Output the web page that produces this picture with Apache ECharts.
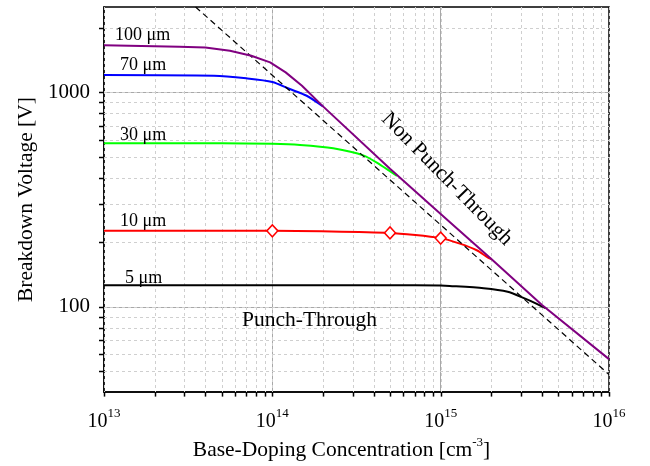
<!DOCTYPE html>
<html>
<head>
<meta charset="utf-8">
<title>Breakdown Voltage vs Base-Doping</title>
<script src="https://cdn.jsdelivr.net/npm/echarts@6/dist/echarts.min.js"></script>
<style>
  html, body { margin: 0; padding: 0; background: #fff; }
  #chart { width: 650px; height: 466px; }
</style>
</head>
<body>
<div id="chart"></div>
<script>
// base doping [cm^-3] vs breakdown voltage [V]
const curve5um = [[1e13, 126], [5e14, 126], [1e15, 125.5], [1.13e15, 125], [1.8e15, 122], [2.5e15, 117.5], [3.1e15, 110], [3.7e15, 103.5], [4.2e15, 98.5]];
const curve10um = [[1e13, 226], [1e14, 226], [5e14, 221], [1e15, 209], [1.3e15, 197], [1.65e15, 183], [1.9e15, 170], [2e15, 167]];
const curve30um = [[1e13, 579], [5e13, 579], [1e14, 575], [1.46e14, 568], [2.3e14, 548], [3.5e14, 507], [4.4e14, 458], [5.5e14, 408]];
const curve70um = [[1e13, 1204], [4.5e13, 1195], [7e13, 1162], [1e14, 1118], [1.27e14, 1036], [1.6e14, 964], [2e14, 860]];
const curve100um = [[1e13, 1660], [2.8e13, 1632], [4e13, 1620], [5.6e13, 1563], [7.5e13, 1481], [9.7e13, 1379], [1.2e14, 1239], [1.5e14, 1073], [2e14, 860], [5e14, 440], [1e15, 271], [2e15, 167], [4e15, 102], [1e16, 57]];
const nptLimit = [[3.5e13, 2500], [1e16, 48.3]];
// points on the 10 um curve that carry a diamond marker
const markedDoping = [1e14, 5e14, 1e15];

const xMajor = [1e13, 1e14, 1e15, 1e16];
const yMajor = [100, 1000];
const xMinor = [2e13, 3e13, 4e13, 5e13, 6e13, 7e13, 8e13, 9e13,
  2e14, 3e14, 4e14, 5e14, 6e14, 7e14, 8e14, 9e14,
  2e15, 3e15, 4e15, 5e15, 6e15, 7e15, 8e15, 9e15];
const yMinor = [50, 60, 70, 80, 90, 200, 300, 400, 500, 600, 700, 800, 900, 2000];

const FONT = '"Liberation Serif", "Times New Roman", serif';

const chart = echarts.init(document.getElementById('chart'), null, { renderer: 'canvas' });

// dashed minor grid + outward ticks, x direction (major ticks longer)
const ticksX = {
  type: 'custom',
  silent: true,
  clip: false,
  z: 1,
  data: xMinor.map(v => [v, 100]).concat(xMajor.map(v => [v, 100, 1])),
  renderItem: (params, api) => {
    const cs = params.coordSys;
    const major = api.value(2) === 1;
    const x = Math.round(api.coord([api.value(0), 100])[0]) + 0.5;
    const bottom = cs.y + cs.height;
    const children = [
      { type: 'line', z2: 50, shape: { x1: x, y1: bottom, x2: x, y2: bottom + (major ? 7.5 : 4.5) }, style: { stroke: '#000', lineWidth: 1.5 } },
    ];
    if (!major) {
      children.push({ type: 'line', shape: { x1: x, y1: cs.y, x2: x, y2: bottom }, style: { stroke: '#cfcfcf', lineWidth: 1, lineDash: [3, 3] } });
    }
    return { type: 'group', children: children };
  },
};

const ticksY = {
  type: 'custom',
  silent: true,
  clip: false,
  z: 1,
  data: yMinor.map(v => [1e14, v]).concat(yMajor.map(v => [1e14, v, 1])),
  renderItem: (params, api) => {
    const cs = params.coordSys;
    const major = api.value(2) === 1;
    const y = Math.round(api.coord([1e14, api.value(1)])[1]) + 0.5;
    const children = [
      { type: 'line', z2: 50, shape: { x1: cs.x - (major ? 8 : 5), y1: y, x2: cs.x, y2: y }, style: { stroke: '#000', lineWidth: 1.5 } },
    ];
    if (!major) {
      children.push({ type: 'line', shape: { x1: cs.x, y1: y, x2: cs.x + cs.width, y2: y }, style: { stroke: '#cfcfcf', lineWidth: 1, lineDash: [3, 3] } });
    }
    return { type: 'group', children: children };
  },
};

const curve = (data, color, smooth) => ({
  type: 'line',
  data: data,
  symbol: 'none',
  smooth: smooth || false,
  z: 3,
  lineStyle: { color: color, width: 2 },
  itemStyle: { color: color },
  emphasis: { disabled: true },
});

const redSeries = curve(curve10um.map(p => markedDoping.includes(p[0])
  ? { value: p, symbol: 'diamond', symbolSize: [11, 12] }
  : { value: p, symbol: 'none' }), '#ff0000', 0.2);
redSeries.symbol = 'diamond';
redSeries.showSymbol = true;
redSeries.itemStyle = { color: '#ffffff', borderColor: '#ff0000', borderWidth: 1.5 };

const labelText = (text, x, y, size) => ({
  type: 'text', x: x, y: y, silent: true, z: 10,
  style: { text: text, fontFamily: FONT, fontSize: size, fill: '#000', align: 'left', verticalAlign: 'middle' },
});

const option = {
  animation: false,
  backgroundColor: '#fff',
  grid: { left: 104, right: 41, top: 7, bottom: 73, show: true, borderColor: '#000', borderWidth: 1.5, backgroundColor: 'transparent' },
  xAxis: {
    type: 'log',
    logBase: 10,
    min: 1e13,
    max: 1e16,
    name: 'Base-Doping Concentration [cm{s|-3}]',
    nameLocation: 'middle',
    nameGap: 44,
    nameTextStyle: {
      fontFamily: FONT, fontSize: 21.5, color: '#000', padding: [0, 30, 0, 0],
      rich: { s: { fontFamily: FONT, fontSize: 13, color: '#000', padding: [0, 0, 14, 0] } },
    },
    axisLine: { show: true, onZero: false, lineStyle: { color: '#000', width: 1.5 } },
    axisTick: { show: false },
    axisLabel: {
      customValues: xMajor,
      margin: 15,
      formatter: v => '{b|10}{s|' + Math.round(Math.log10(v)) + '}',
      rich: {
        b: { fontFamily: FONT, fontSize: 20, color: '#000' },
        s: { fontFamily: FONT, fontSize: 13, color: '#000', padding: [0, 0, 16, 0] },
      },
    },
    splitLine: { show: true, showMinLine: false, showMaxLine: false, lineStyle: { color: '#a8a8a8', width: 1 } },
  },
  yAxis: {
    type: 'log',
    logBase: 10,
    min: 40,
    max: 2500,
    name: 'Breakdown Voltage [V]',
    nameLocation: 'middle',
    nameRotate: 90,
    nameGap: 57,
    nameTextStyle: { fontFamily: FONT, fontSize: 21.5, color: '#000' },
    axisLine: { show: true, onZero: false, lineStyle: { color: '#000', width: 1.5 } },
    axisTick: { show: false },
    axisLabel: { customValues: yMajor, margin: 14, fontFamily: FONT, fontSize: 21, color: '#000', formatter: v => String(Math.round(v)) },
    splitLine: { show: true, showMinLine: false, showMaxLine: false, lineStyle: { color: '#a8a8a8', width: 1 } },
  },
  series: [
    ticksX,
    ticksY,
    curve(curve5um, '#000000', 0.25),
    redSeries,
    curve(curve30um, '#00ff00', 0.25),
    curve(curve70um, '#0000ff', 0.25),
    {
      type: 'line',
      data: nptLimit,
      symbol: 'none',
      z: 4,
      lineStyle: { color: '#000', width: 1.2, type: [6, 4] },
      emphasis: { disabled: true },
    },
    Object.assign(curve(curve100um, '#800080'), { z: 5 }),
  ],
  graphic: [
    labelText('100 μm', 115, 35, 18),
    labelText('70 μm', 120, 65.5, 18),
    labelText('30 μm', 120, 135.5, 18),
    labelText('10 μm', 120, 221.5, 18),
    labelText('5 μm', 125, 278, 18),
    labelText('Punch-Through', 242, 320, 21.5),
    {
      type: 'text', x: 447, y: 179, rotation: -0.795, silent: true, z: 10,
      style: { text: 'Non Punch-Through', fontFamily: FONT, fontSize: 21.5, fill: '#000', align: 'center', verticalAlign: 'middle' },
    },
  ],
};

chart.setOption(option);
window.addEventListener('resize', () => chart.resize());
</script>
</body>
</html>
